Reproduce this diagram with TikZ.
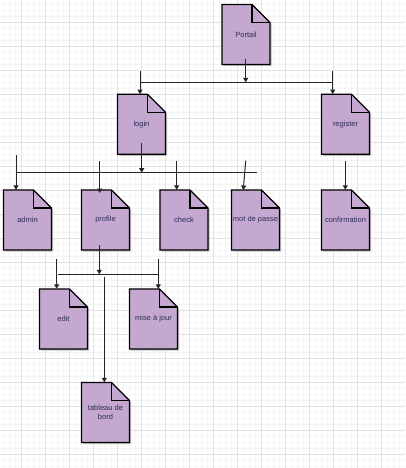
\documentclass[tikz,border=0pt]{standalone}
\usepackage{fontspec}
\setmainfont{Liberation Sans}
\usetikzlibrary{arrows.meta,calc}
\definecolor{docfill}{HTML}{C4A8CF}
\definecolor{doctext}{HTML}{2B2B55}
\definecolor{gridmajor}{HTML}{E2E2E2}
\definecolor{gridminor}{HTML}{F5F5F5}
\tikzset{
  docshape/.style={fill=docfill,draw=black,line width=1.2pt,line join=miter},
  docshadow/.style={fill=black!25,draw=none},
  doctext/.style={minimum width=48pt,minimum height=60pt,inner sep=0pt,align=center,
    font=\fontsize{7.5pt}{9pt}\selectfont,text=doctext},
  conn/.style={draw=black!85,line width=1pt},
  arr/.style={conn,-{Triangle[length=4.5pt,width=5pt]}},
}
% name, center, text
\newcommand{\docitem}[3]{%
  \path[docshadow] ($(#2)+(-22.5,-28.5)$) -- ++(30,0) -- ++(18,18) -- ++(0,42) -- ++(-48,0) -- cycle;
  \path[docshape] ($(#2)+(-24,-30)$) -- ++(30,0) -- ++(18,18) -- ++(0,42) -- ++(-48,0) -- cycle;
  \draw[black,line width=1.2pt] ($(#2)+(6,-30)$) |- ++(18,18);
  \node[doctext] (#1) at (#2) {#3};
}
\begin{document}
\begin{tikzpicture}[x=1pt,y=-1pt]
\useasboundingbox (0,0) rectangle (405,468);
\fill[white] (0,0) rectangle (405,468);
% grid
\foreach \x in {3.3,9.3,...,405} \draw[gridminor,line width=0.5pt] (\x,0) -- (\x,468);
\foreach \y in {4.3,10.3,...,468} \draw[gridminor,line width=0.5pt] (0,\y) -- (405,\y);
\foreach \x in {21.3,45.3,...,405} \draw[gridmajor,line width=0.8pt] (\x,0) -- (\x,468);
\foreach \y in {22.3,46.3,...,468} \draw[gridmajor,line width=0.8pt] (0,\y) -- (405,\y);

% documents
\docitem{portail}{246,34.5}{Portail}
\docitem{login}{141.5,124.3}{login}
\docitem{register}{345.5,124.3}{register}
\docitem{admin}{27.5,220}{admin}
\docitem{profile}{105.5,220}{profile}
\docitem{check}{184,220}{check}
\docitem{mdp}{255.5,220}{mot de passe}
\docitem{confirm}{345.5,220}{confirmation}
\docitem{edit}{63.5,319}{edit}
\docitem{maj}{153.5,319}{mise à jour}
\docitem{tableau}{105.5,412.5}{tableau de\\bord}

% level 1 connectors
\coordinate (b1l) at (140,82.3);
\coordinate (b1r) at (332.7,82.3);
\coordinate (b1m) at (245.7,82.3);
\coordinate (t1l) at (140,70.7);
\coordinate (t1r) at (332.7,70.7);
\draw[conn] (b1l) -- (b1r);
\draw[arr] ($(portail.south)+(-0.3,-6)$) -- (b1m);
\draw[arr] (t1l) -- (login.north -| t1l);
\draw[arr] (t1r) -- (register.north -| t1r);

% level 2 connectors
\coordinate (b2l) at (16,172.7);
\coordinate (b2r) at (256.7,172.7);
\coordinate (b2m) at (141.7,172.7);
\coordinate (t2a) at (16,155);
\coordinate (t2p) at (99.7,161);
\coordinate (t2c) at (176.7,161);
\coordinate (t2m) at (245.7,160.7);
\coordinate (e2m) at (243.3,190);
\coordinate (e2p) at (99.7,193);
\draw[conn] (b2l) -- (b2r);
\draw[arr] ($(login.south)+(0.2,-11.6)$) -- (b2m);
\draw[arr] (t2a) -- (admin.north -| t2a);
\draw[arr] (t2p) -- (e2p);
\draw[arr] (t2c) -- (check.north -| t2c);
\draw[arr] (t2m) -- (e2m);
\coordinate (t2r) at (345.3,161);
\draw[arr] (t2r) -- (confirm.north -| t2r);

% level 3 connectors
\coordinate (b3l) at (57.7,274.3);
\coordinate (b3r) at (159.3,274.3);
\coordinate (b3m) at (99.3,274.3);
\coordinate (t3e) at (56.7,259);
\coordinate (t3m) at (158.3,259);
\coordinate (t3t) at (104.3,276.7);
\draw[conn] (b3l) -- (b3r);
\draw[arr] ($(profile.south)+(-6.2,-5)$) -- (b3m);
\draw[arr] (t3e) -- (edit.north -| t3e);
\draw[arr] (t3m) -- (maj.north -| t3m);
\draw[arr] (t3t) -- (tableau.north -| t3t);
\end{tikzpicture}
\end{document}
